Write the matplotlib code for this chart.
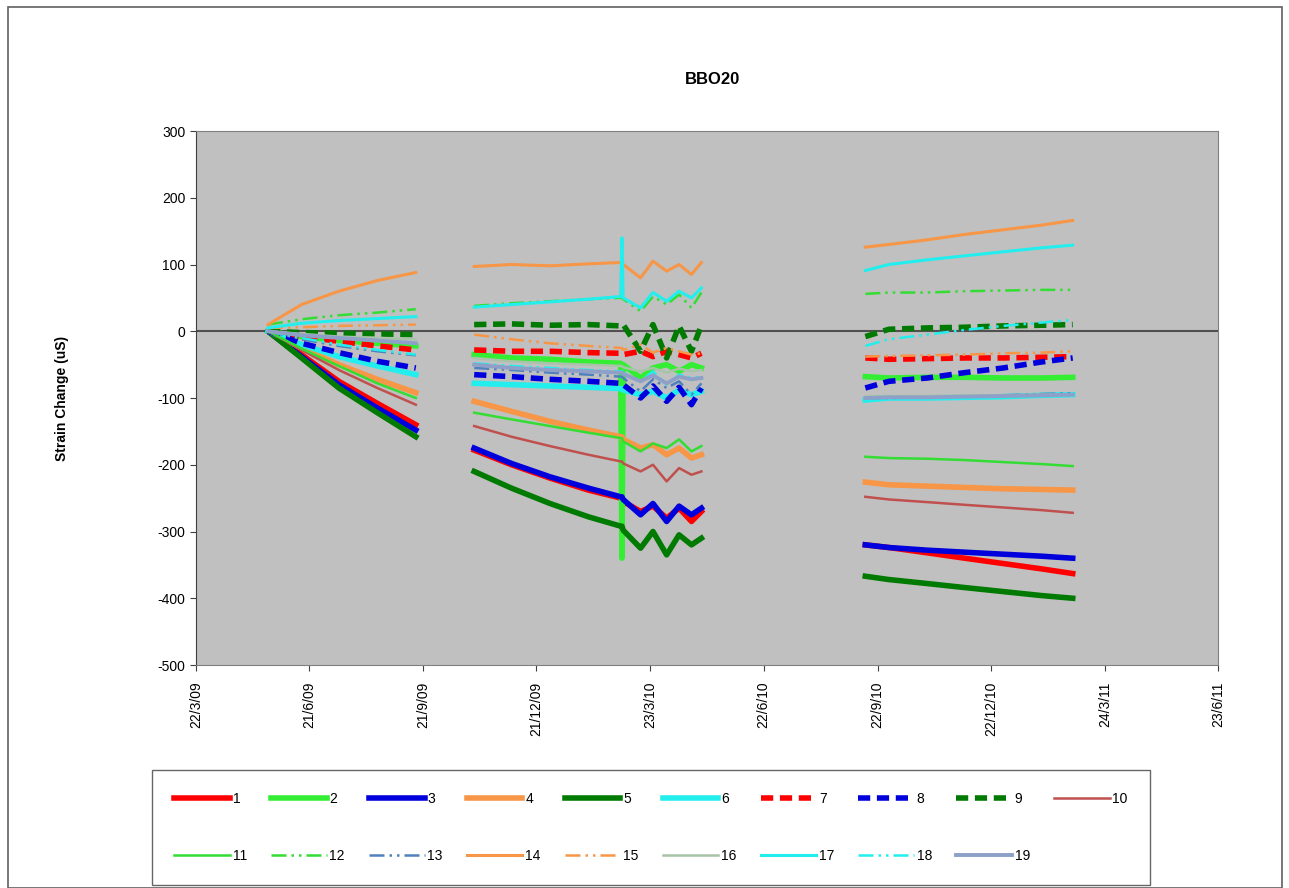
import numpy as np
import matplotlib
matplotlib.use("Agg")
import matplotlib.pyplot as plt
import matplotlib.dates as mdates
from matplotlib.patches import Rectangle
from datetime import datetime, timedelta

plt.rcParams['font.family'] = ['Liberation Sans', 'DejaVu Sans']
plt.rcParams['axes.unicode_minus'] = False

# ---- data ----
series_names = [str(i) for i in range(1, 20)]

seg1_dates = ['2009-05-19', '2009-06-15', '2009-07-15', '2009-08-15', '2009-09-15']
seg2_dates = ['2009-11-01', '2009-12-01', '2010-01-01', '2010-02-01', '2010-02-27',
              '2010-02-28', '2010-03-01', '2010-03-15', '2010-03-25', '2010-04-05',
              '2010-04-15', '2010-04-25', '2010-05-03']
seg3_dates = ['2010-09-12', '2010-10-01', '2010-11-01', '2010-12-01', '2011-01-01',
              '2011-02-01', '2011-02-26']

seg1_strain = [
    [0, -35, -75, -108, -140],      # 1
    [0, -8, -14, -18, -22],         # 2
    [0, -38, -80, -115, -148],      # 3
    [0, -25, -50, -72, -92],        # 4
    [0, -40, -85, -122, -158],      # 5
    [0, -20, -38, -52, -65],        # 6
    [0, -8, -15, -22, -28],         # 7
    [0, -18, -32, -45, -55],        # 8
    [0, -2, -3, -4, -5],            # 9
    [0, -28, -58, -85, -110],       # 10
    [0, -26, -52, -78, -100],       # 11
    [10, 18, 24, 28, 33],           # 12
    [0, -12, -22, -30, -36],        # 13
    [10, 40, 60, 76, 88],           # 14
    [5, 6, 8, 9, 10],               # 15
    [0, -4, -8, -10, -12],          # 16
    [5, 12, 16, 19, 22],            # 17
    [0, -10, -20, -28, -35],        # 18
    [0, -6, -10, -14, -18],         # 19
]

seg2_strain = [
    [-178, -200, -220, -238, -250, -250, -255, -270, -262, -280, -265, -285, -270],  # 1
    [-35, -40, -42, -46, -48, -340, -50, -70, -55, -50, -60, -50, -55],             # 2
    [-175, -198, -218, -235, -248, -248, -252, -275, -258, -285, -262, -275, -265],  # 3
    [-105, -120, -135, -148, -158, -158, -162, -175, -170, -185, -175, -190, -185],  # 4
    [-210, -235, -258, -278, -292, -292, -298, -325, -300, -335, -305, -320, -310],  # 5
    [-78, -80, -82, -84, -86, -86, -88, -95, -90, -100, -88, -95, -90],             # 6
    [-28, -30, -30, -32, -33, -33, -35, -30, -38, -30, -35, -40, -33],              # 7
    [-65, -68, -72, -75, -78, -78, -80, -100, -82, -105, -84, -110, -85],           # 8
    [10, 11, 9, 10, 8, 8, 10, -30, 10, -40, 8, -30, 9],                              # 9
    [-142, -158, -172, -185, -195, -195, -198, -210, -200, -225, -205, -215, -210],  # 10
    [-122, -132, -142, -152, -160, -160, -165, -180, -168, -175, -162, -180, -172],  # 11
    [38, 42, 45, 48, 50, 50, 48, 30, 52, 40, 55, 35, 58],                            # 12
    [-55, -58, -62, -65, -68, -68, -70, -90, -72, -85, -75, -95, -78],              # 13
    [97, 100, 98, 101, 103, 103, 100, 80, 105, 90, 100, 85, 103],                    # 14
    [-5, -12, -18, -22, -25, -25, -28, -20, -32, -25, -30, -35, -33],               # 15
    [-40, -45, -48, -50, -52, -52, -54, -60, -55, -62, -56, -60, -58],              # 16
    [36, 40, 44, 48, 52, 140, 50, 35, 58, 45, 60, 50, 65],                           # 17
    [-48, -52, -55, -58, -60, -60, -62, -75, -60, -80, -65, -70, -68],              # 18
    [-50, -55, -58, -60, -62, -62, -64, -75, -66, -78, -68, -72, -70],              # 19
]

seg3_strain = [
    [-320, -324, -332, -340, -348, -356, -363],   # 1
    [-68, -70, -69, -69, -70, -70, -69],          # 2
    [-320, -324, -328, -331, -334, -337, -340],   # 3
    [-226, -230, -232, -234, -236, -237, -238],   # 4
    [-367, -372, -378, -384, -390, -396, -400],   # 5
    [-103, -100, -100, -99, -98, -96, -95],       # 6
    [-40, -42, -41, -40, -40, -39, -38],          # 7
    [-85, -75, -70, -62, -55, -46, -40],          # 8
    [-8, 3, 5, 6, 8, 9, 10],                      # 9
    [-248, -252, -256, -260, -264, -268, -272],   # 10
    [-188, -190, -191, -193, -196, -199, -202],   # 11
    [56, 58, 58, 60, 61, 62, 62],                 # 12
    [-100, -100, -99, -97, -96, -94, -93],        # 13
    [126, 130, 137, 145, 152, 159, 166],          # 14
    [-38, -37, -36, -35, -33, -32, -30],          # 15
    [-98, -97, -97, -96, -96, -95, -95],          # 16
    [91, 100, 107, 113, 119, 125, 129],           # 17
    [-22, -12, -5, 2, 8, 13, 17],                 # 18
    [-100, -99, -99, -98, -97, -96, -95],         # 19
]

# ---- styles ----
colors = ['#FF0000', '#33EE33', '#0000DD', '#F79646', '#007A00', '#22EEEE',
          '#FF0000', '#0000DD', '#007A00', '#C0504D', '#33DD33', '#33DD33',
          '#4F81BD', '#F79646', '#F79646', '#A8C4A8', '#22EEEE', '#22EEEE', '#8EA0C8']
dashed = (0, (2.2, 1.2))
dashdot = (0, (6, 2, 1, 2, 1, 2))
styles = ['-'] * 6 + [dashed] * 3 + ['-', '-', dashdot, dashdot, '-', dashdot, '-', '-', dashdot, '-']
widths = [4.0] * 9 + [1.8, 1.8, 1.8, 1.8, 2.2, 1.8, 1.8, 2.2, 1.8, 2.8]


def to_num(ds):
    return mdates.date2num([datetime.strptime(d, '%Y-%m-%d') for d in ds])


fig = plt.figure(figsize=(12.89, 8.88), dpi=100)
ax = fig.add_axes([196 / 1289, 1 - 665 / 888, (1218 - 196) / 1289, (665 - 131) / 888])
ax.set_facecolor('#C0C0C0')

x1, x2, x3 = to_num(seg1_dates), to_num(seg2_dates), to_num(seg3_dates)
handles = []
for i in range(19):
    kw = dict(color=colors[i], linestyle=styles[i], linewidth=widths[i], zorder=3 + i * 0.01)
    h, = ax.plot(x1, seg1_strain[i], **kw)
    ax.plot(x2, seg2_strain[i], **kw)
    ax.plot(x3, seg3_strain[i], **kw)
    handles.append(h)

ax.axhline(0, color='#505050', lw=1.5, zorder=2)

start = datetime(2009, 3, 22)
end = datetime(2011, 6, 23)
span = (end - start).days
tick_days = [round(span * k / 9) for k in range(10)]
tick_dates = [start + timedelta(days=d) for d in tick_days]
ax.set_xticks(mdates.date2num(tick_dates))
ax.set_xticklabels(['%d/%d/%02d' % (d.day, d.month, d.year % 100) for d in tick_dates],
                   rotation=90, fontsize=10)
ax.set_xlim(mdates.date2num(start), mdates.date2num(end))
ax.set_ylim(-500, 300)
ax.set_yticks(range(-500, 301, 100))
ax.tick_params(axis='y', labelsize=10, length=4, color='#404040')
ax.tick_params(axis='x', length=4, color='#404040', pad=8)
for s in ax.spines.values():
    s.set_color('#808080')
ax.spines['left'].set_color('#404040')

fig.text(713 / 1289, 1 - 80 / 888, 'BBO20', ha='center', va='center', fontsize=12, fontweight='bold')
fig.text(62 / 1289, 1 - 398 / 888, 'Strain Change (uS)', ha='center', va='center',
         rotation=90, fontsize=10, fontweight='bold')

# legend: row-major order in the original
order = [0, 10, 1, 11, 2, 12, 3, 13, 4, 14, 5, 15, 6, 16, 7, 17, 8, 18, 9]
leg = fig.legend([handles[k] for k in order], [series_names[k] for k in order],
                 ncol=10, loc='lower left', mode='expand', borderaxespad=0,
                 bbox_to_anchor=(152 / 1289, 1 - 885 / 888, (1150 - 152) / 1289, (885 - 767) / 888),
                 fontsize=10, handlelength=4.0, handletextpad=0.2, columnspacing=0.8,
                 labelspacing=3.1, borderpad=1.6, fancybox=False, edgecolor='#404040')
leg.get_frame().set_linewidth(1.0)

fig.patches.append(Rectangle((8 / 1289, 0), (1282 - 8) / 1289, 1 - 7 / 888,
                             transform=fig.transFigure, fill=False, edgecolor='#606060', lw=1.2))

fig.savefig('out.png', dpi=100)
